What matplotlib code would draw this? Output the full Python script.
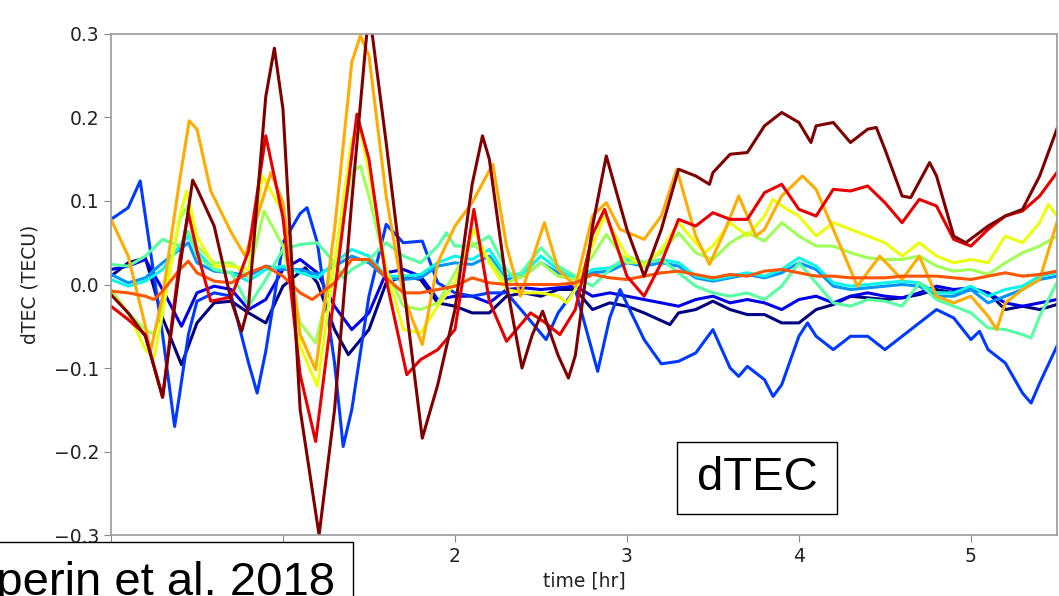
import matplotlib.pyplot as plt
import matplotlib.patches as mpatches
import numpy as np

# dTEC series (TECU), jet-coloured from navy to dark red
t_navy = [0.0, 0.1, 0.2, 0.3, 0.41, 0.5, 0.6, 0.7, 0.8, 0.9, 1.0, 1.13, 1.2, 1.3,
          1.38, 1.5, 1.6, 1.7, 1.8, 1.9, 2.0, 2.1, 2.2, 2.3, 2.4, 2.5, 2.6, 2.7,
          2.8, 2.9, 3.0, 3.1, 3.25, 3.3, 3.4, 3.5, 3.6, 3.7, 3.8, 3.9, 4.0, 4.1,
          4.2, 4.3, 4.4, 4.5, 4.6, 4.7, 4.8, 4.9, 5.0, 5.1, 5.2, 5.3, 5.4, 5.5]
dtec_navy = [0.01, 0.026, 0.032, -0.04, -0.096, -0.046, -0.022, -0.02, -0.034, -0.046,
             -0.002, 0.02, 0.002, -0.054, -0.084, -0.054, 0.002, 0.01, 0.006, -0.022,
             -0.026, -0.034, -0.034, -0.014, -0.01, -0.014, -0.006, -0.006, -0.03, -0.022,
             -0.026, -0.034, -0.048, -0.034, -0.03, -0.02, -0.03, -0.036, -0.036, -0.046,
             -0.046, -0.03, -0.024, -0.014, -0.016, -0.018, -0.016, -0.012, -0.006, -0.01,
             -0.006, -0.01, -0.03, -0.026, -0.03, -0.024]

t_blue = [0.0, 0.1, 0.2, 0.3, 0.41, 0.5, 0.6, 0.7, 0.8, 0.9, 1.0, 1.1, 1.2, 1.3,
          1.4, 1.5, 1.6, 1.7, 1.8, 1.9, 2.0, 2.1, 2.2, 2.3, 2.4, 2.5, 2.6, 2.7,
          2.8, 2.9, 3.0, 3.1, 3.2, 3.3, 3.4, 3.5, 3.6, 3.7, 3.8, 3.9, 4.0, 4.1,
          4.2, 4.3, 4.4, 4.5, 4.6, 4.7, 4.8, 4.9, 5.0, 5.1, 5.2, 5.3, 5.4, 5.5]
dtec_blue = [0.018, 0.022, 0.03, -0.006, -0.05, -0.01, -0.002, -0.006, -0.03, -0.018,
             0.018, 0.03, 0.014, -0.026, -0.054, -0.034, 0.014, 0.018, 0.01, -0.018,
             -0.014, -0.014, -0.022, -0.006, -0.004, -0.006, -0.004, -0.002, -0.014, -0.01,
             -0.014, -0.018, -0.022, -0.026, -0.018, -0.014, -0.022, -0.018, -0.022, -0.03,
             -0.018, -0.014, -0.022, -0.014, -0.01, -0.014, -0.016, -0.01, -0.002, -0.006,
             -0.004, -0.01, -0.022, -0.026, -0.022, -0.018]

t_royal = [0.0, 0.1, 0.17, 0.3, 0.37, 0.4, 0.45, 0.5, 0.6, 0.7, 0.8, 0.85, 0.9, 1.0,
           1.1, 1.14, 1.2, 1.3, 1.35, 1.4, 1.5, 1.6, 1.7, 1.81, 1.9, 2.0, 2.1, 2.2,
           2.3, 2.4, 2.53, 2.6, 2.7, 2.83, 2.9, 2.96, 3.1, 3.2, 3.3, 3.4, 3.5, 3.6,
           3.65, 3.7, 3.8, 3.85, 3.9, 4.0, 4.05, 4.1, 4.2, 4.3, 4.4, 4.5, 4.6, 4.7,
           4.8, 4.9, 5.0, 5.05, 5.1, 5.2, 5.3, 5.35, 5.4, 5.5]
dtec_royal = [0.078, 0.092, 0.124, -0.06, -0.17, -0.13, -0.06, -0.02, -0.01, -0.014,
              -0.094, -0.13, -0.08, 0.05, 0.085, 0.092, 0.05, -0.094, -0.194, -0.15,
              -0.014, 0.072, 0.05, 0.052, 0.002, -0.01, -0.014, -0.01, -0.01, -0.034,
              -0.066, -0.034, -0.006, -0.104, -0.04, -0.006, -0.066, -0.095, -0.092, -0.082,
              -0.054, -0.1, -0.11, -0.098, -0.114, -0.134, -0.12, -0.062, -0.046, -0.062,
              -0.078, -0.062, -0.062, -0.078, -0.062, -0.046, -0.03, -0.04, -0.066, -0.056,
              -0.078, -0.094, -0.13, -0.142, -0.118, -0.074]

t_light = [0.0, 0.1, 0.2, 0.3, 0.4, 0.45, 0.5, 0.6, 0.7, 0.8, 0.9, 1.0, 1.1, 1.2,
           1.3, 1.4, 1.5, 1.6, 1.7, 1.8, 1.9, 2.0, 2.1, 2.2, 2.3, 2.4, 2.5, 2.6,
           2.7, 2.8, 2.9, 3.0, 3.1, 3.2, 3.3, 3.4, 3.5, 3.6, 3.7, 3.8, 3.9, 4.0,
           4.1, 4.2, 4.3, 4.4, 4.5, 4.6, 4.7, 4.8, 4.9, 5.0, 5.1, 5.2, 5.3, 5.4, 5.5]
dtec_sky = [0.012, 0.002, 0.008, 0.026, 0.042, 0.05, 0.026, 0.016, 0.014, 0.01,
            0.022, 0.018, 0.018, 0.012, 0.022, 0.034, 0.026, 0.008, 0.006, 0.008,
            0.022, 0.026, 0.024, 0.034, 0.006, 0.01, 0.026, 0.014, 0.008, 0.014,
            0.016, 0.026, 0.022, 0.026, 0.022, 0.008, 0.004, 0.008, 0.012, 0.008,
            0.014, 0.026, 0.018, -0.002, -0.006, -0.004, -0.002, 0.0, -0.002, -0.014,
            -0.014, -0.006, -0.022, -0.014, -0.006, 0.006, 0.01]
dtec_cyan = [0.006, -0.002, 0.004, 0.018, 0.046, 0.058, 0.04, 0.018, 0.014, 0.004,
             0.018, 0.022, 0.014, 0.008, 0.026, 0.042, 0.034, 0.01, 0.01, 0.012,
             0.026, 0.034, 0.03, 0.042, 0.01, 0.014, 0.034, 0.018, 0.006, 0.018,
             0.02, 0.03, 0.026, 0.03, 0.026, 0.01, 0.006, 0.01, 0.014, 0.01,
             0.018, 0.032, 0.022, 0.002, -0.002, 0.0, 0.002, 0.004, 0.002, -0.01,
             -0.01, -0.002, -0.014, -0.006, -0.002, 0.01, 0.014]

t_turq = [0.0, 0.1, 0.2, 0.3, 0.4, 0.45, 0.5, 0.6, 0.7, 0.8, 0.9, 1.0, 1.1, 1.2,
          1.3, 1.35, 1.4, 1.5, 1.6, 1.7, 1.8, 1.9, 1.95, 2.0, 2.1, 2.2, 2.3, 2.35,
          2.4, 2.5, 2.6, 2.7, 2.8, 2.9, 3.0, 3.1, 3.2, 3.3, 3.4, 3.5, 3.6, 3.7,
          3.8, 3.9, 4.0, 4.1, 4.2, 4.3, 4.4, 4.5, 4.6, 4.7, 4.8, 4.9, 5.0, 5.1,
          5.2, 5.3, 5.35, 5.4, 5.5]
dtec_turq = [0.024, 0.022, 0.034, 0.054, 0.046, 0.064, 0.034, 0.018, 0.014, -0.026,
             0.006, 0.042, 0.048, 0.05, 0.026, 0.008, 0.018, 0.03, 0.05, 0.034,
             0.026, 0.046, 0.062, 0.046, 0.046, 0.058, 0.018, 0.006, 0.018, 0.044,
             0.022, 0.01, -0.002, 0.018, 0.034, 0.026, 0.03, 0.014, -0.002, -0.01,
             -0.014, -0.01, -0.018, -0.002, 0.026, 0.002, -0.022, -0.026, -0.018, -0.02,
             -0.026, 0.002, -0.018, -0.026, -0.034, -0.052, -0.054, -0.06, -0.064, -0.038,
             0.002]

t_lime = [0.0, 0.1, 0.2, 0.25, 0.3, 0.4, 0.45, 0.5, 0.6, 0.7, 0.8, 0.89, 1.0, 1.1,
          1.19, 1.3, 1.4, 1.45, 1.5, 1.6, 1.7, 1.8, 1.9, 2.0, 2.1, 2.2, 2.3, 2.4,
          2.5, 2.6, 2.7, 2.8, 2.88, 3.0, 3.1, 3.2, 3.3, 3.4, 3.5, 3.6, 3.7, 3.8,
          3.9, 4.0, 4.1, 4.2, 4.3, 4.4, 4.5, 4.6, 4.7, 4.8, 4.9, 5.0, 5.1, 5.2,
          5.3, 5.4, 5.5]
dtec_lime = [-0.006, -0.034, -0.054, -0.06, -0.022, 0.078, 0.095, 0.046, 0.026, 0.026,
             0.01, 0.088, 0.046, -0.046, -0.07, 0.026, 0.134, 0.142, 0.106, 0.018,
             -0.026, -0.03, -0.022, 0.014, 0.05, 0.03, 0.002, 0.01, 0.026, 0.01,
             0.006, 0.034, 0.06, 0.026, 0.026, 0.038, 0.062, 0.038, 0.03, 0.05,
             0.062, 0.052, 0.074, 0.058, 0.046, 0.046, 0.038, 0.032, 0.03, 0.03,
             0.034, 0.022, 0.016, 0.018, 0.012, 0.026, 0.038, 0.046, 0.058]

t_yellow = [0.0, 0.1, 0.2, 0.25, 0.3, 0.4, 0.44, 0.5, 0.6, 0.7, 0.8, 0.88, 1.0, 1.1,
            1.2, 1.3, 1.4, 1.45, 1.5, 1.6, 1.7, 1.8, 1.9, 2.0, 2.11, 2.2, 2.3, 2.4,
            2.5, 2.6, 2.65, 2.7, 2.8, 2.87, 3.0, 3.1, 3.2, 3.3, 3.4, 3.45, 3.5, 3.6,
            3.7, 3.8, 3.85, 3.9, 4.0, 4.1, 4.2, 4.3, 4.4, 4.5, 4.6, 4.7, 4.8, 4.9,
            5.0, 5.1, 5.2, 5.3, 5.4, 5.45, 5.5]
dtec_yellow = [-0.01, -0.034, -0.078, -0.088, -0.034, 0.082, 0.112, 0.058, 0.022, 0.022,
               0.018, 0.13, 0.086, -0.074, -0.122, 0.026, 0.174, 0.184, 0.134, 0.018,
               -0.054, -0.058, -0.026, 0.002, 0.066, 0.026, -0.006, -0.01, -0.01, -0.014,
               -0.022, -0.006, 0.046, 0.082, 0.034, 0.022, 0.042, 0.074, 0.05, 0.038,
               0.046, 0.074, 0.058, 0.082, 0.102, 0.094, 0.082, 0.058, 0.074, 0.066,
               0.058, 0.05, 0.034, 0.05, 0.034, 0.026, 0.03, 0.026, 0.058, 0.05,
               0.074, 0.096, 0.082]

t_orange = [0.0, 0.1, 0.2, 0.23, 0.3, 0.4, 0.455, 0.5, 0.58, 0.7, 0.78, 0.93, 1.0, 1.1,
            1.19, 1.3, 1.4, 1.45, 1.5, 1.6, 1.7, 1.81, 1.9, 2.0, 2.1, 2.22, 2.3, 2.38,
            2.52, 2.6, 2.7, 2.8, 2.88, 2.96, 3.1, 3.2, 3.29, 3.4, 3.48, 3.56, 3.65, 3.75,
            3.8, 3.9, 4.02, 4.1, 4.2, 4.34, 4.47, 4.6, 4.7, 4.8, 4.9, 5.0, 5.1, 5.15,
            5.2, 5.3, 5.4, 5.5]
dtec_orange = [0.078, 0.034, -0.05, -0.08, -0.014, 0.126, 0.196, 0.186, 0.112, 0.062,
               0.034, 0.134, 0.098, -0.06, -0.102, 0.066, 0.266, 0.298, 0.274, 0.106,
               -0.014, -0.072, 0.026, 0.07, 0.098, 0.144, 0.046, -0.014, 0.074, 0.018,
               -0.002, 0.082, 0.098, 0.066, 0.054, 0.082, 0.138, 0.058, 0.024, 0.06,
               0.106, 0.058, 0.066, 0.106, 0.13, 0.114, 0.066, -0.002, 0.034, 0.006,
               0.034, -0.014, -0.022, -0.014, -0.038, -0.054, -0.022, -0.006, 0.006, 0.074]

t_orred = [0.0, 0.1, 0.2, 0.25, 0.3, 0.4, 0.45, 0.5, 0.6, 0.7, 0.8, 0.9, 1.0, 1.1,
           1.17, 1.3, 1.4, 1.5, 1.6, 1.7, 1.8, 1.9, 2.0, 2.1, 2.2, 2.3, 2.4, 2.5,
           2.6, 2.7, 2.8, 2.9, 3.0, 3.1, 3.2, 3.3, 3.4, 3.5, 3.6, 3.7, 3.8, 3.9,
           4.0, 4.1, 4.2, 4.3, 4.4, 4.5, 4.6, 4.7, 4.8, 4.9, 5.0, 5.1, 5.2, 5.3,
           5.4, 5.5]
dtec_orred = [-0.008, -0.01, -0.014, -0.018, -0.008, 0.018, 0.028, 0.014, 0.004, 0.002,
              0.014, 0.022, 0.01, -0.01, -0.018, 0.002, 0.03, 0.03, 0.008, -0.01,
              -0.01, -0.006, -0.002, 0.008, 0.002, 0.0, 0.0, 0.0, 0.0, 0.002,
              0.012, 0.008, 0.006, 0.01, 0.014, 0.016, 0.012, 0.008, 0.012, 0.01,
              0.016, 0.018, 0.014, 0.01, 0.01, 0.008, 0.008, 0.008, 0.01, 0.01,
              0.01, 0.008, 0.006, 0.01, 0.014, 0.01, 0.012, 0.016]

t_red = [0.0, 0.1, 0.2, 0.3, 0.4, 0.45, 0.5, 0.58, 0.7, 0.8, 0.9, 1.0, 1.1, 1.19,
         1.3, 1.43, 1.5, 1.6, 1.72, 1.8, 1.9, 2.0, 2.11, 2.2, 2.3, 2.44, 2.52, 2.61,
         2.7, 2.8, 2.87, 3.0, 3.1, 3.2, 3.3, 3.4, 3.5, 3.6, 3.7, 3.8, 3.9, 4.0,
         4.1, 4.2, 4.3, 4.4, 4.5, 4.6, 4.7, 4.8, 4.9, 5.0, 5.1, 5.2, 5.3, 5.4, 5.5]
dtec_red = [-0.026, -0.042, -0.06, -0.135, 0.03, 0.085, 0.04, -0.02, -0.015, 0.04,
            0.178, 0.08, -0.108, -0.188, -0.01, 0.204, 0.15, 0.006, -0.108, -0.09,
            -0.078, -0.054, 0.09, -0.02, -0.068, -0.034, -0.045, -0.06, -0.03, 0.06,
            0.09, 0.01, -0.014, 0.026, 0.078, 0.07, 0.086, 0.078, 0.078, 0.11,
            0.12, 0.09, 0.082, 0.114, 0.112, 0.118, 0.098, 0.074, 0.102, 0.094,
            0.054, 0.046, 0.066, 0.082, 0.088, 0.106, 0.134]

t_dkred = [0.0, 0.1, 0.2, 0.3, 0.4, 0.475, 0.5, 0.6, 0.7, 0.76, 0.8, 0.9, 0.95, 1.0,
           1.1, 1.21, 1.3, 1.4, 1.5, 1.6, 1.7, 1.81, 1.9, 2.0, 2.1, 2.16, 2.2, 2.3,
           2.39, 2.45, 2.51, 2.6, 2.66, 2.7, 2.8, 2.88, 3.0, 3.1, 3.2, 3.3, 3.4, 3.48,
           3.5, 3.6, 3.7, 3.8, 3.9, 4.0, 4.07, 4.1, 4.2, 4.3, 4.4, 4.45, 4.5, 4.6,
           4.65, 4.76, 4.8, 4.9, 4.97, 5.1, 5.2, 5.3, 5.4, 5.5]
dtec_dkred = [-0.012, -0.034, -0.062, -0.135, 0.02, 0.125, 0.115, 0.07, -0.02, -0.056,
              -0.025, 0.225, 0.283, 0.21, -0.15, -0.3, -0.15, 0.1, 0.33, 0.17,
              0.0, -0.184, -0.12, -0.03, 0.12, 0.178, 0.15, 0.0, -0.1, -0.06,
              -0.032, -0.085, -0.112, -0.085, 0.07, 0.154, 0.066, 0.01, 0.066, 0.138,
              0.13, 0.12, 0.134, 0.156, 0.158, 0.19, 0.206, 0.194, 0.17, 0.19,
              0.194, 0.17, 0.186, 0.188, 0.162, 0.106, 0.104, 0.146, 0.13, 0.058,
              0.05, 0.07, 0.082, 0.09, 0.13, 0.186]

series = [(t_navy, dtec_navy), (t_blue, dtec_blue), (t_royal, dtec_royal),
          (t_light, dtec_sky), (t_light, dtec_cyan), (t_turq, dtec_turq),
          (t_lime, dtec_lime), (t_yellow, dtec_yellow), (t_orange, dtec_orange),
          (t_orred, dtec_orred), (t_red, dtec_red), (t_dkred, dtec_dkred)]

x_ticks = [0, 1, 2, 3, 4, 5]
# the labels "0" and "1" sit under the citation box in the original
x_ticklabels = ['', '', '2', '3', '4', '5']
y_ticks = [-0.3, -0.2, -0.1, 0.0, 0.1, 0.2, 0.3]

fig = plt.figure(figsize=(10.59, 5.96), dpi=100)
ax = fig.add_axes([0.1048, 0.1023, 0.8932, 0.8407])

colors = plt.cm.jet(np.linspace(0, 1, len(series)))
for (t, v), c in zip(series, colors):
    ax.plot(t, v, color=c, lw=2.2, solid_joinstyle='round')

ax.set_xlim(0, 5.5)
ax.set_ylim(-0.3, 0.3)
ax.set_xticks(x_ticks)
ax.set_xticklabels(x_ticklabels)
ax.set_yticks(y_ticks)
ax.tick_params(labelsize=13.5, colors='#222222', length=5, color='#888888')
for sp in ax.spines.values():
    sp.set_color('#999999')
    sp.set_linewidth(1.2)
ax.set_xlabel('time [hr]', fontsize=13.5, color='#222222', labelpad=4)
ax.set_ylabel('dTEC (TECU)', fontsize=13.5, color='#222222', labelpad=10)

# annotation boxes
box1 = mpatches.Rectangle((677 / 1059, 1 - 514 / 596), 160 / 1059, 72 / 596,
                          transform=fig.transFigure, facecolor='white',
                          edgecolor='black', lw=1.0, zorder=5)
fig.add_artist(box1)
fig.text(757 / 1059, 1 - 478 / 596, 'dTEC', fontsize=34, family='Liberation Sans',
         ha='center', va='center', zorder=6)

box2 = mpatches.Rectangle((-0.05, -0.05), 353 / 1059 + 0.05, 1 - 542 / 596 + 0.05,
                          transform=fig.transFigure, facecolor='white',
                          edgecolor='black', lw=1.0, zorder=5)
fig.add_artist(box2)
fig.text(335 / 1059, 1 / 596, 'Galperin et al. 2018', fontsize=34,
         family='Liberation Sans', ha='right', va='baseline', zorder=6)

fig.savefig('out.png', dpi=100)
